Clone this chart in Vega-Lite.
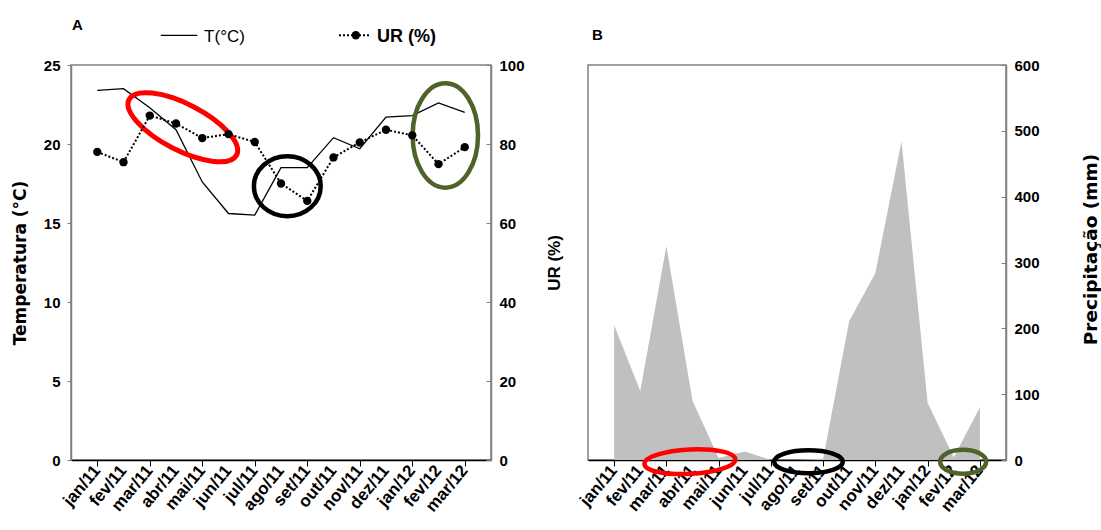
{
  "$schema": "https://vega.github.io/schema/vega-lite/v6.json",
  "padding": {"left": 10, "top": 17, "right": 0, "bottom": 0},
  "bounds": "flush",
  "spacing": 97,
  "data": {"values": [
    {"i": 1, "mes": "jan/11", "T": 23.4, "UR": 78.0, "P": 205},
    {"i": 2, "mes": "fev/11", "T": 23.5, "UR": 75.4, "P": 105},
    {"i": 3, "mes": "mar/11", "T": 22.3, "UR": 87.2, "P": 325},
    {"i": 4, "mes": "abr/11", "T": 20.9, "UR": 85.2, "P": 90},
    {"i": 5, "mes": "mai/11", "T": 17.6, "UR": 81.5, "P": 3},
    {"i": 6, "mes": "jun/11", "T": 15.6, "UR": 82.5, "P": 13},
    {"i": 7, "mes": "jul/11", "T": 15.5, "UR": 80.5, "P": 0},
    {"i": 8, "mes": "ago/11", "T": 18.5, "UR": 70.0, "P": 0},
    {"i": 9, "mes": "set/11", "T": 18.5, "UR": 65.6, "P": 2},
    {"i": 10, "mes": "out/11", "T": 20.4, "UR": 76.6, "P": 211},
    {"i": 11, "mes": "nov/11", "T": 19.7, "UR": 80.4, "P": 284},
    {"i": 12, "mes": "dez/11", "T": 21.7, "UR": 83.6, "P": 484},
    {"i": 13, "mes": "jan/12", "T": 21.8, "UR": 82.2, "P": 87},
    {"i": 14, "mes": "fev/12", "T": 22.6, "UR": 74.9, "P": 4},
    {"i": 15, "mes": "mar/12", "T": 22.0, "UR": 79.2, "P": 80}
  ]},
  "hconcat": [
    {
      "width": 420,
      "height": 395,
      "title": {"text": "A", "anchor": "start", "frame": "group", "offset": -5, "fontSize": 15, "fontWeight": "bold", "font": "Liberation Sans", "dx": 1, "color": "black"},
      "layer": [
        {
          "layer": [
            {
              "mark": {"type": "line", "color": "black", "strokeWidth": 1.3},
              "encoding": {
                "x": {"field": "i", "type": "quantitative", "scale": {"domain": [0, 16], "nice": false, "zero": false},
                  "axis": {"title": null, "values": [1,2,3,4,5,6,7,8,9,10,11,12,13,14,15], "labels": false,
                    "tickSize": 6, "tickColor": "black", "domainColor": "black", "domainWidth": 1.5}},
                "y": {"field": "T", "type": "quantitative", "scale": {"domain": [0, 25], "nice": false},
                  "axis": {"title": "Temperatura (°C)", "orient": "left", "values": [0,5,10,15,20,25], "tickSize": 4, "labelPadding": 7,
                    "domainColor": "#808080", "domainWidth": 1.5, "tickColor": "#808080",
                    "titleFont": "DejaVu Sans", "titleFontSize": 17, "titleFontWeight": "bold", "titlePadding": 14, "titleColor": "black"}}
              }
            },
            {
              "mark": {"type": "text", "angle": -50, "align": "right", "baseline": "middle", "font": "Liberation Sans", "fontSize": 17, "fontWeight": "bold", "color": "black"},
              "encoding": {
                "x": {"field": "i", "type": "quantitative"},
                "y": {"datum": -0.5, "type": "quantitative"},
                "text": {"field": "mes"}
              }
            },
            {
              "data": {"values": [{}]},
              "mark": {"type": "point", "shape": "M1,0C1,0.2115,0.5523,0.383,0,0.383C-0.5523,0.383,-1,0.2115,-1,0C-1,-0.2115,-0.5523,-0.383,0,-0.383C0.5523,-0.383,1,-0.2115,1,0Z", "size": 14641, "angle": 27.3, "filled": false, "stroke": "#ff0000", "strokeWidth": 5, "opacity": 1},
              "encoding": {"x": {"datum": 4.26, "type": "quantitative"}, "y": {"datum": 21.06, "type": "quantitative"}}
            },
            {
              "data": {"values": [{}]},
              "mark": {"type": "point", "shape": "M1,0C1,0.496,0.5523,0.898,0,0.898C-0.5523,0.898,-1,0.496,-1,0C-1,-0.496,-0.5523,-0.898,0,-0.898C0.5523,-0.898,1,-0.496,1,0Z", "size": 4462, "filled": false, "stroke": "#000000", "strokeWidth": 4.5, "opacity": 1},
              "encoding": {"x": {"datum": 8.24, "type": "quantitative"}, "y": {"datum": 17.33, "type": "quantitative"}}
            },
            {
              "data": {"values": [{}]},
              "mark": {"type": "point", "shape": "M1,0C1,0.3457,0.5523,0.626,0,0.626C-0.5523,0.626,-1,0.3457,-1,0C-1,-0.3457,-0.5523,-0.626,0,-0.626C0.5523,-0.626,1,-0.3457,1,0Z", "size": 10899, "angle": 90, "filled": false, "stroke": "#4f6229", "strokeWidth": 4.5, "opacity": 1},
              "encoding": {"x": {"datum": 14.26, "type": "quantitative"}, "y": {"datum": 20.54, "type": "quantitative"}}
            },
            {
              "data": {"values": [{}]},
              "mark": {"type": "rule", "color": "black", "strokeWidth": 1.3},
              "encoding": {"x": {"datum": 3.42, "type": "quantitative"}, "x2": {"datum": 4.81}, "y": {"datum": 26.88, "type": "quantitative"}}
            },
            {
              "data": {"values": [{}]},
              "mark": {"type": "text", "text": "T(°C)", "align": "left", "baseline": "middle", "font": "Liberation Sans", "fontSize": 17, "color": "black"},
              "encoding": {"x": {"datum": 5.07, "type": "quantitative"}, "y": {"datum": 26.75, "type": "quantitative"}}
            },
            {
              "data": {"values": [{}]},
              "mark": {"type": "rule", "color": "black", "strokeWidth": 2, "strokeDash": [2, 2]},
              "encoding": {"x": {"datum": 10.21, "type": "quantitative"}, "x2": {"datum": 11.42}, "y": {"datum": 26.88, "type": "quantitative"}}
            },
            {
              "data": {"values": [{}]},
              "mark": {"type": "point", "filled": true, "color": "black", "size": 70, "opacity": 1},
              "encoding": {"x": {"datum": 10.85, "type": "quantitative"}, "y": {"datum": 26.88, "type": "quantitative"}}
            },
            {
              "data": {"values": [{}]},
              "mark": {"type": "text", "text": "UR (%)", "align": "left", "baseline": "middle", "font": "Liberation Sans", "fontSize": 18, "fontWeight": "bold", "color": "black"},
              "encoding": {"x": {"datum": 11.66, "type": "quantitative"}, "y": {"datum": 26.75, "type": "quantitative"}}
            }
          ]
        },
        {
          "layer": [
            {
              "mark": {"type": "line", "color": "black", "strokeWidth": 2, "strokeDash": [2, 2]},
              "encoding": {
                "x": {"field": "i", "type": "quantitative"},
                "y": {"field": "UR", "type": "quantitative", "scale": {"domain": [0, 100], "nice": false},
                  "axis": {"title": "UR (%)", "orient": "right", "values": [0,20,40,60,80,100], "tickSize": -5, "labelPadding": 13,
                    "domainColor": "#808080", "domainWidth": 1.5, "tickColor": "#808080",
                    "titleAngle": 270, "titleBaseline": "top", "titlePadding": 22,
                    "titleFont": "Liberation Sans", "titleFontSize": 17, "titleFontWeight": "bold", "titleColor": "black"}}
              }
            },
            {
              "mark": {"type": "point", "filled": true, "color": "black", "size": 70, "opacity": 1},
              "encoding": {
                "x": {"field": "i", "type": "quantitative"},
                "y": {"field": "UR", "type": "quantitative"}
              }
            }
          ]
        }
      ],
      "resolve": {"scale": {"y": "independent"}, "axis": {"y": "independent"}}
    },
    {
      "width": 418,
      "height": 395,
      "title": {"text": "B", "anchor": "start", "frame": "group", "offset": 15, "fontSize": 15, "fontWeight": "bold", "font": "Liberation Sans", "dx": 4, "color": "black"},
      "layer": [
        {
          "mark": {"type": "area", "color": "#c0c0c0", "opacity": 1},
          "encoding": {
            "x": {"field": "i", "type": "quantitative", "scale": {"domain": [0, 16], "nice": false, "zero": false},
              "axis": {"title": null, "values": [1,2,3,4,5,6,7,8,9,10,11,12,13,14,15], "labels": false,
                "tickSize": 6, "tickColor": "black", "domainColor": "black", "domainWidth": 1.5}},
            "y": {"field": "P", "type": "quantitative", "scale": {"domain": [0, 600], "nice": false},
              "axis": {"title": "Precipitação (mm)", "orient": "right", "values": [0,100,200,300,400,500,600], "tickSize": -5, "labelPadding": 13,
                "domainColor": "#808080", "domainWidth": 1.5, "tickColor": "#808080",
                "titleAngle": 270, "titleBaseline": "top", "titlePadding": 42, "titleY": 184,
                "titleFont": "DejaVu Sans", "titleFontSize": 18.5, "titleFontWeight": "bold", "titleColor": "black"}}
          }
        },
        {
          "mark": {"type": "text", "angle": -50, "align": "right", "baseline": "middle", "font": "Liberation Sans", "fontSize": 17, "fontWeight": "bold", "color": "black"},
          "encoding": {
            "x": {"field": "i", "type": "quantitative"},
            "y": {"datum": -12, "type": "quantitative"},
            "text": {"field": "mes"}
          }
        },
        {
          "data": {"values": [{}]},
          "mark": {"type": "point", "shape": "M1,0C1,0.148,0.5523,0.268,0,0.268C-0.5523,0.268,-1,0.148,-1,0C-1,-0.148,-0.5523,-0.268,0,-0.268C0.5523,-0.268,1,-0.148,1,0Z", "size": 8281, "angle": -3, "filled": false, "stroke": "#ff0000", "strokeWidth": 4.5, "opacity": 1},
          "encoding": {"x": {"datum": 3.9, "type": "quantitative"}, "y": {"datum": -2.5, "type": "quantitative"}}
        },
        {
          "data": {"values": [{}]},
          "mark": {"type": "point", "shape": "M1,0C1,0.185,0.5523,0.335,0,0.335C-0.5523,0.335,-1,0.185,-1,0C-1,-0.185,-0.5523,-0.335,0,-0.335C0.5523,-0.335,1,-0.185,1,0Z", "size": 4706, "filled": false, "stroke": "#000000", "strokeWidth": 4.5, "opacity": 1},
          "encoding": {"x": {"datum": 8.44, "type": "quantitative"}, "y": {"datum": -2.5, "type": "quantitative"}}
        },
        {
          "data": {"values": [{}]},
          "mark": {"type": "point", "shape": "M1,0C1,0.287,0.5523,0.52,0,0.52C-0.5523,0.52,-1,0.287,-1,0C-1,-0.287,-0.5523,-0.52,0,-0.52C0.5523,-0.52,1,-0.287,1,0Z", "size": 2116, "filled": false, "stroke": "#4f6229", "strokeWidth": 4.5, "opacity": 1},
          "encoding": {"x": {"datum": 14.36, "type": "quantitative"}, "y": {"datum": -2.6, "type": "quantitative"}}
        }
      ]
    }
  ],
  "config": {
    "view": {"stroke": "#808080", "strokeWidth": 1.5},
    "font": "Liberation Sans",
    "axis": {"grid": false, "labelFont": "Liberation Sans", "labelFontWeight": "bold", "labelFontSize": 15, "labelColor": "black", "titleColor": "black"}
  }
}
